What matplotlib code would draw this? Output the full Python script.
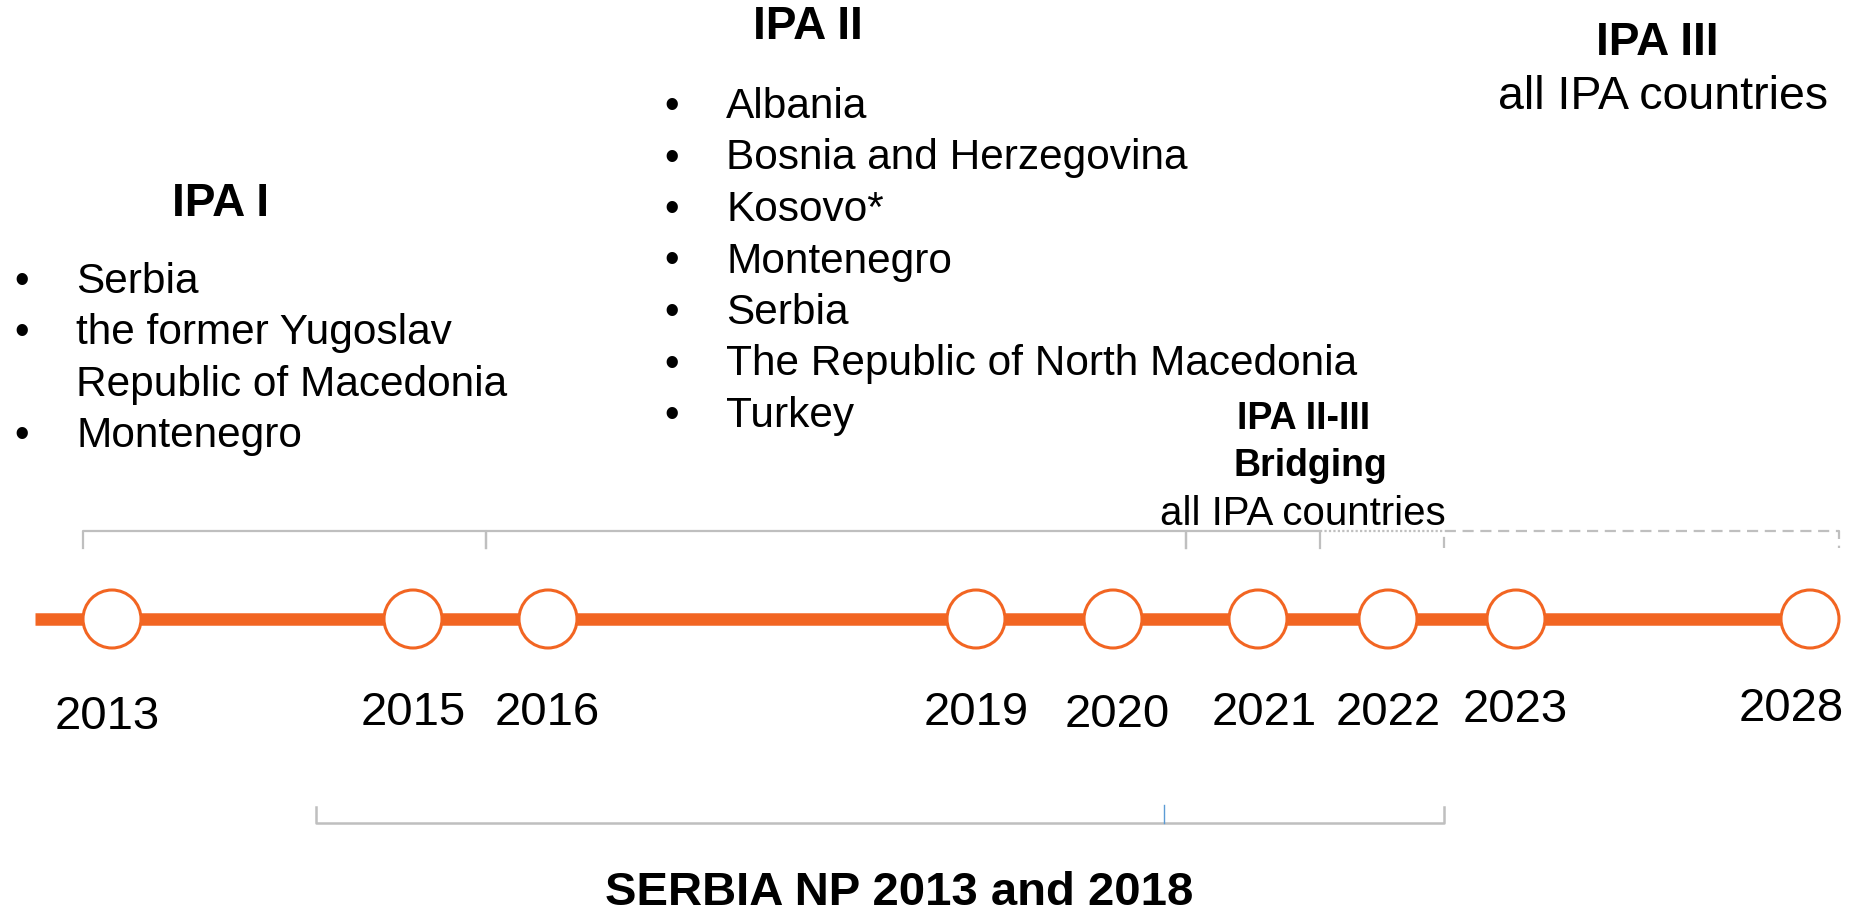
#!/usr/bin/env python3

import matplotlib
matplotlib.use("Agg")
import matplotlib.pyplot as plt
from matplotlib.patches import Circle

W, H = 1852, 916

ORANGE = "#F26522"
GREY = "#BFBFBF"
BLUE = "#5B9BD5"

# timeline milestones (x is the position along the drawn timeline, px)
years = ["2013", "2015", "2016", "2019", "2020", "2021", "2022", "2023", "2028"]
year_x = [112, 413, 548, 976, 1113, 1258, 1388, 1516, 1810]
label_x = [107, 413, 547, 976, 1117, 1264, 1388, 1515, 1791]
label_base = [729, 725, 725, 725, 727, 725, 725, 722, 721]

ipa1_items = ["Serbia", "the former Yugoslav", "Republic of Macedonia", "Montenegro"]
ipa1_bullets = [True, True, False, True]
ipa2_items = ["Albania", "Bosnia and Herzegovina", "Kosovo*", "Montenegro",
              "Serbia", "The Republic of North Macedonia", "Turkey"]

# programme spans on the timeline (px)
spans_solid = [(83, 486), (486, 1186), (1186, 1320)]
span_dotted = (1320, 1444)
span_dashed = (1444, 1839)
serbia_span = (316, 1444)
serbia_mark = 1164

FONT = "Liberation Sans"

fig = plt.figure(figsize=(W / 100, H / 100), dpi=100)
ax = fig.add_axes([0, 0, 1, 1])
ax.set_xlim(0, W)
ax.set_ylim(H, 0)
ax.axis("off")
ax.set_aspect("auto")

# main orange line
ax.plot([35, year_x[-1]], [619, 619], color=ORANGE, lw=9, solid_capstyle="butt", zorder=1)
for x in year_x:
    ax.add_patch(Circle((x, 619), 29, facecolor="white", edgecolor=ORANGE, lw=2.2, zorder=2))
for y, lx, lb in zip(years, label_x, label_base):
    ax.text(lx, lb, y, fontsize=34, family=FONT, ha="center", va="baseline")

# upper brackets
top, tick = 531, 548
for a, b in spans_solid:
    ax.plot([a, a, b, b], [tick, top, top, tick], color=GREY, lw=1.6, zorder=1)
ax.plot(span_dotted, [top, top], color=GREY, lw=1.6, linestyle=(0, (1, 1)))
a, b = span_dashed
ax.plot([a, a, b, b], [tick, top, top, tick], color=GREY, lw=1.6, linestyle=(0, (5, 3)))

# lower bracket
a, b = serbia_span
ax.plot([a, a, b, b], [807, 823, 823, 807], color=GREY, lw=1.8)
ax.plot([serbia_mark, serbia_mark], [805, 823], color=BLUE, lw=1)

# headings
ax.text(221, 204, "IPA I", fontsize=33, weight="bold", family=FONT, ha="center", va="center")
ax.text(808, 27, "IPA II", fontsize=33, weight="bold", family=FONT, ha="center", va="center")
ax.text(1657, 43, "IPA III", fontsize=33, weight="bold", family=FONT, ha="center", va="center")
ax.text(1663, 97, "all IPA countries", fontsize=33.5, family=FONT, ha="center", va="center")
ax.text(1304, 419, "IPA II-III", fontsize=27, weight="bold", family=FONT, ha="center", va="center")
ax.text(1310, 466, "Bridging", fontsize=27, weight="bold", family=FONT, ha="center", va="center")
ax.text(1303, 514, "all IPA countries", fontsize=29, family=FONT, ha="center", va="center")
ax.text(899, 893, "SERBIA NP 2013 and 2018", fontsize=34, weight="bold", family=FONT,
        ha="center", va="center")

# bullet lists
for i, (item, bul) in enumerate(zip(ipa1_items, ipa1_bullets)):
    yb = 293 + i * 51.3
    if bul:
        ax.text(22, yb, "\u2022", fontsize=30, family=FONT, ha="center", va="baseline")
    ax.text(76, yb, item, fontsize=30.5, family=FONT, ha="left", va="baseline")

for i, item in enumerate(ipa2_items):
    yb = 118 + i * 51.5
    ax.text(672, yb, "\u2022", fontsize=30, family=FONT, ha="center", va="baseline")
    ax.text(726, yb, item, fontsize=30.5, family=FONT, ha="left", va="baseline")

fig.savefig("out.png", dpi=100, facecolor="white")
